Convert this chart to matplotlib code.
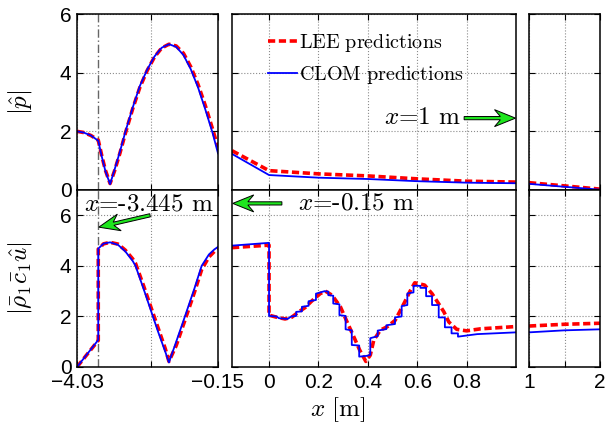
import numpy as np
import matplotlib
matplotlib.use("Agg")
import matplotlib.pyplot as plt
from matplotlib.patches import Polygon
from matplotlib.transforms import IdentityTransform

plt.rcParams['mathtext.fontset'] = 'cm'
plt.rcParams['font.family'] = ['Liberation Sans', 'DejaVu Sans']
plt.rcParams['axes.unicode_minus'] = True

# data
# upstream duct (-4.03 .. -0.15)
x_up_p = [-4.03, -3.85, -3.65, -3.445, -3.35, -3.25, -3.12, -3.0, -2.85, -2.7, -2.5, -2.3,
          -2.1, -1.9, -1.7, -1.5, -1.3, -1.1, -0.9, -0.7, -0.5, -0.3, -0.15]
p_up_clom = [2.0, 1.96, 1.86, 1.68, 1.15, 0.65, 0.2, 0.68, 1.3, 1.98, 2.8, 3.55,
             4.1, 4.55, 4.85, 4.97, 4.88, 4.6, 4.12, 3.5, 2.75, 1.95, 1.25]
p_up_lee = [2.0, 1.96, 1.86, 1.7, 1.18, 0.68, 0.22, 0.64, 1.25, 1.93, 2.76, 3.5,
            4.07, 4.53, 4.84, 4.97, 4.91, 4.66, 4.2, 3.6, 2.88, 2.08, 1.45]

x_up_u = [-4.03, -3.445, -3.445, -3.3, -3.12, -2.9, -2.7, -2.5, -2.42, -2.2, -2.0, -1.8,
          -1.6, -1.5, -1.3, -1.06, -0.8, -0.6, -0.4, -0.25, -0.15]
u_up_clom = [0.0, 1.07, 4.68, 4.88, 4.93, 4.83, 4.57, 4.2, 4.0, 3.1, 2.25, 1.4,
             0.6, 0.18, 1.0, 2.0, 3.1, 4.0, 4.45, 4.65, 4.75]
u_up_lee = [0.0, 1.05, 4.66, 4.87, 4.93, 4.86, 4.62, 4.28, 4.1, 3.22, 2.38, 1.55,
            0.72, 0.22, 0.85, 1.85, 2.95, 3.85, 4.35, 4.57, 4.68]

# flame / heat release region (-0.15 .. 1)
x_mid_p = [-0.15, 0.0, 0.2, 0.4, 0.6, 0.8, 1.0]
p_mid_clom = [1.23, 0.51, 0.42, 0.375, 0.3, 0.25, 0.23]
p_mid_lee = [1.34, 0.66, 0.55, 0.48, 0.38, 0.3, 0.27]

x_mid_clom = [-0.15, 0.0, 0.0, 0.03, 0.04, 0.075, 0.09, 0.11, 0.11, 0.133, 0.133, 0.16, 0.16,
              0.19, 0.19, 0.225, 0.24, 0.24, 0.26, 0.26, 0.285, 0.285, 0.31, 0.31, 0.335,
              0.335, 0.365, 0.365, 0.395, 0.41, 0.41, 0.44, 0.44, 0.475, 0.475, 0.51, 0.51,
              0.537, 0.537, 0.56, 0.56, 0.585, 0.585, 0.613, 0.613, 0.636, 0.636, 0.66, 0.66,
              0.687, 0.687, 0.712, 0.712, 0.739, 0.739, 0.765, 0.765, 0.843, 1.0]
u_mid_clom = [4.8, 4.91, 2.02, 2.0, 1.93, 1.9, 2.0, 2.02, 2.18, 2.2, 2.38, 2.42, 2.6,
              2.65, 2.9, 3.0, 2.98, 2.84, 2.82, 2.51, 2.48, 2.05, 2.02, 1.49, 1.45,
              0.87, 0.85, 0.41, 0.44, 0.48, 1.14, 1.22, 1.44, 1.5, 1.65, 1.7, 1.96,
              2.0, 2.41, 2.45, 2.91, 2.95, 3.21, 3.21, 3.13, 3.13, 2.8, 2.8, 2.45,
              2.45, 1.96, 1.96, 1.57, 1.57, 1.33, 1.33, 1.2, 1.3, 1.37]

x_mid_lee = [-0.15, 0.0, 0.0, 0.03, 0.065, 0.092, 0.12, 0.146, 0.173, 0.207, 0.228, 0.255,
             0.289, 0.316, 0.343, 0.367, 0.392, 0.41, 0.424, 0.451, 0.48, 0.511, 0.55,
             0.57, 0.59, 0.63, 0.66, 0.687, 0.708, 0.728, 0.76, 0.8, 0.857, 1.0]
u_mid_lee = [4.72, 4.82, 2.05, 1.97, 1.9, 1.97, 2.18, 2.35, 2.61, 2.9, 3.0, 2.84,
             2.38, 1.78, 1.2, 0.67, 0.22, 0.47, 1.06, 1.46, 1.6, 1.85, 2.58,
             2.98, 3.33, 3.24, 2.9, 2.5, 2.18, 1.78, 1.49, 1.43, 1.51, 1.6]

# downstream duct (1 .. 2)
x_down = [1.0, 1.5, 2.0]
p_down_clom = [0.21, 0.11, 0.01]
p_down_lee = [0.25, 0.14, 0.03]
u_down_clom = [1.37, 1.45, 1.49]
u_down_lee = [1.62, 1.69, 1.73]

x_mark = -3.445

red = '#ff0000'
blue = '#0000ff'
green = '#1ee61e'

W, H = 606, 437
fig = plt.figure(figsize=(W / 100, H / 100), dpi=100)

def box(x0, x1, y0, y1):
    # pixel box -> figure fraction
    return [x0 / W, 1 - y1 / H, (x1 - x0) / W, (y1 - y0) / H]

cols = [(77, 218), (232, 516), (529, 600)]
rows = [(14, 190), (190, 367)]
axs = [[fig.add_axes(box(c[0], c[1], r[0], r[1])) for c in cols] for r in rows]

xlims = [(-4.03, -0.15), (-0.15, 1.0), (1.0, 2.0)]
xticks = [[-4.03, -2.0, -0.15], [0, 0.2, 0.4, 0.6, 0.8], [1.0, 1.5, 2.0]]
xticklabels = [['\u22124.03', '', '\u22120.15'], ['0', '0.2', '0.4', '0.6', '0.8'], ['1', '', '2']]
ylims = [(0, 6), (0, 7)]

lee_kw = dict(color=red, lw=2.6, dashes=(2.0, 1.0))
clom_kw = dict(color=blue, lw=1.3)

# top row: pressure
axs[0][0].plot(x_up_p, p_up_lee, **lee_kw)
axs[0][0].plot(x_up_p, p_up_clom, **clom_kw)
axs[0][1].plot(x_mid_p, p_mid_lee, label=r'$\mathrm{LEE\ predictions}$', **lee_kw)
axs[0][1].plot(x_mid_p, p_mid_clom, label=r'$\mathrm{CLOM\ predictions}$', **clom_kw)
axs[0][2].plot(x_down, p_down_lee, **lee_kw)
axs[0][2].plot(x_down, p_down_clom, **clom_kw)

# bottom row: velocity
axs[1][0].plot(x_up_u, u_up_lee, **lee_kw)
axs[1][0].plot(x_up_u, u_up_clom, **clom_kw)
axs[1][1].plot(x_mid_lee, u_mid_lee, **lee_kw)
axs[1][1].plot(x_mid_clom, u_mid_clom, **clom_kw)
axs[1][2].plot(x_down, u_down_lee, **lee_kw)
axs[1][2].plot(x_down, u_down_clom, **clom_kw)

for i in range(2):
    for j in range(3):
        ax = axs[i][j]
        ax.set_xlim(*xlims[j])
        ax.set_ylim(*ylims[i])
        ax.set_xticks(xticks[j])
        ax.set_yticks([0, 2, 4, 6])
        if i == 1:
            ax.set_xticklabels(xticklabels[j])
        else:
            ax.set_xticklabels([])
        if j != 0:
            ax.set_yticklabels([])
        ax.grid(True, ls=':', color='#8c8c8c', lw=0.8)
        ax.tick_params(direction='in', top=True, right=True, length=4, width=0.8,
                       labelsize=15, pad=4)
        for s in ax.spines.values():
            s.set_linewidth(1.1)
        ax.set_axisbelow(True)
    axs[i][0].axvline(x_mark, color='#666666', lw=1.0, ls=(0, (6, 2, 1, 2)), zorder=1)

leg = axs[0][1].legend(loc='upper left', bbox_to_anchor=(0.127, 0.9), frameon=False,
                       fontsize=14.5, handlelength=1.45, handletextpad=0.1,
                       borderpad=0, borderaxespad=0, labelspacing=0.5)


def arrow(ax, tail, tip, hl=21, hw=17, sw=1.6):
    # MATLAB-like arrow with swept-back head, built in pixel space
    t = ax.transData.transform(tail)
    p = ax.transData.transform(tip)
    d = p - t
    u = d / np.hypot(*d)
    n = np.array([-u[1], u[0]])
    notch = p - u * hl * 0.72
    back = p - u * hl
    pts = [t + n * sw, notch + n * sw, back + n * hw / 2, p,
           back - n * hw / 2, notch - n * sw, t - n * sw]
    fig.add_artist(Polygon(pts, closed=True, transform=IdentityTransform(),
                           fc=green, ec='k', lw=0.7, zorder=5))


ax = axs[1][0]
ax.text(-2.05, 6.42, r'$x$=-3.445 m', family='cmr10', fontsize=18, ha='center', va='center')
arrow(ax, (-2.02, 6.0), (-3.43, 5.53))

ax = axs[1][1]
ax.text(0.117, 6.47, r'$x$=-0.15 m', family='cmr10', fontsize=18, ha='left', va='center')
arrow(ax, (0.052, 6.47), (-0.147, 6.47))

ax = axs[0][1]
ax.text(0.776, 2.45, r'$x$=1 m', family='cmr10', fontsize=18, ha='right', va='center')
arrow(ax, (0.79, 2.45), (0.998, 2.45))

fig.text(20 / W, 1 - 102 / H, r'$|\hat{p}|$', fontsize=18, rotation=90, ha='center', va='center')
fig.text(20 / W, 1 - 278 / H, r'$|\bar{\rho}_1\bar{c}_1\hat{u}|$', fontsize=18, rotation=90,
         ha='center', va='center')
fig.text(338 / W, 1 - 410 / H, r'$x\ \mathrm{[m]}$', fontsize=18, ha='center', va='center')

fig.savefig('out.png', dpi=100)
